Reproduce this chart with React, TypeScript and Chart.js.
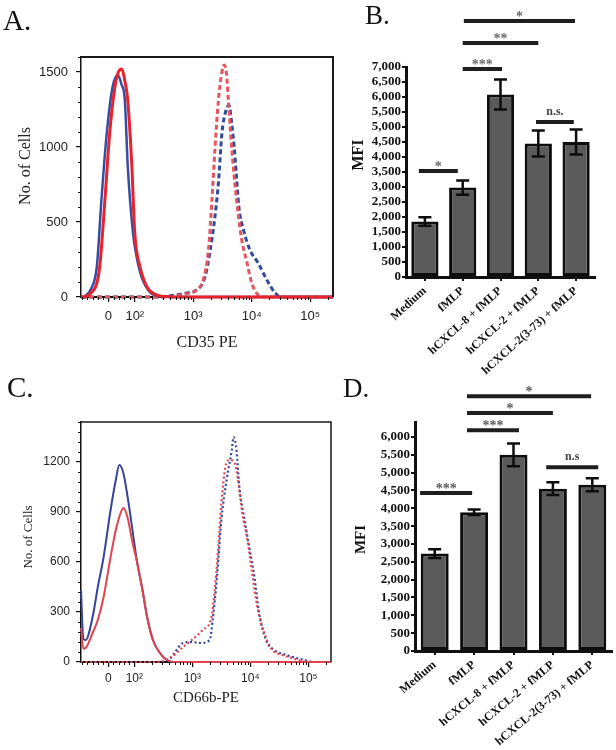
import React, { useEffect, useRef } from 'react';
import { Chart, registerables } from 'chart.js';

Chart.register(...registerables);

const SANS = "'Liberation Sans', Arial, sans-serif";
const SERIF = "'Liberation Serif', 'Times New Roman', serif";

// ---------- Flow histogram axes (x in display decades of the biexponential axis) ----------
const histXTicks = [1.55, 2, 3, 4, 5];
const histXTickLabels = ['0', '10²', '10³', '10⁴', '10⁵'];
const histXMin = 1.08;
const histXMax = 5.39;

// Panel A: CD35 PE histograms [position, count]
const aYTicks = [0, 500, 1000, 1500];
const aRedSolid = [[1.08, 0], [1.18, 5], [1.26, 30], [1.35, 90], [1.4, 200], [1.49, 650], [1.57, 1090], [1.66, 1400], [1.72, 1500], [1.78, 1520], [1.83, 1440], [1.88, 1310], [1.95, 870], [2.0, 425], [2.09, 200], [2.21, 67], [2.38, 13], [2.6, 2], [2.9, 0], [5.39, 0]];
const aBlueSolid = [[1.08, 0], [1.14, 5], [1.26, 60], [1.35, 200], [1.43, 650], [1.52, 1090], [1.62, 1400], [1.71, 1480], [1.77, 1420], [1.83, 1310], [1.88, 870], [1.97, 425], [2.03, 270], [2.12, 130], [2.26, 33], [2.43, 5], [2.7, 0], [5.39, 0]];
const aRedDashed = [[1.08, 0], [2.6, 0], [2.85, 20], [3.06, 47], [3.17, 113], [3.26, 313], [3.32, 650], [3.37, 980], [3.43, 1310], [3.49, 1500], [3.53, 1547], [3.57, 1480], [3.6, 1310], [3.66, 980], [3.74, 650], [3.83, 380], [3.92, 227], [4.0, 93], [4.08, 27], [4.16, 3], [4.3, 0], [5.39, 0]];
const aBlueDashed = [[1.08, 0], [2.4, 0], [2.69, 13], [2.89, 27], [3.06, 47], [3.2, 133], [3.29, 313], [3.37, 533], [3.43, 760], [3.49, 1090], [3.55, 1230], [3.61, 1280], [3.66, 1150], [3.7, 1000], [3.74, 800], [3.78, 600], [3.86, 447], [3.97, 313], [4.11, 227], [4.26, 113], [4.4, 27], [4.5, 0], [5.39, 0]];

// Panel C: CD66b-PE histograms [position, count]
const cYTicks = [0, 300, 600, 900, 1200];
const cBlueSolid = [[1.08, 430], [1.12, 140], [1.16, 132], [1.28, 270], [1.37, 450], [1.47, 630], [1.59, 912], [1.68, 1092], [1.74, 1182], [1.81, 1134], [1.9, 954], [1.98, 760], [2.05, 594], [2.14, 432], [2.22, 270], [2.32, 132], [2.44, 54], [2.56, 12], [2.7, 0], [5.39, 0]];
const cRedSolid = [[1.08, 204], [1.12, 80], [1.16, 84], [1.28, 174], [1.37, 252], [1.47, 390], [1.59, 630], [1.68, 792], [1.74, 870], [1.81, 924], [1.88, 870], [1.97, 714], [2.05, 594], [2.14, 432], [2.22, 270], [2.32, 132], [2.44, 54], [2.56, 12], [2.7, 0], [5.39, 0]];
const cRedDotted = [[1.08, 0], [2.4, 0], [2.62, 24], [2.84, 90], [2.99, 132], [3.18, 192], [3.33, 270], [3.38, 414], [3.44, 654], [3.5, 954], [3.57, 1170], [3.64, 1212], [3.73, 1194], [3.78, 1110], [3.86, 894], [3.95, 732], [4.03, 534], [4.12, 330], [4.24, 174], [4.38, 72], [4.55, 42], [4.72, 24], [4.84, 10], [5.0, 0], [5.39, 0]];
const cBlueDotted = [[1.08, 0], [2.4, 0], [2.62, 24], [2.84, 114], [2.99, 120], [3.13, 114], [3.3, 132], [3.35, 252], [3.42, 492], [3.5, 852], [3.59, 1092], [3.68, 1272], [3.71, 1350], [3.76, 1272], [3.81, 1050], [3.9, 852], [3.98, 690], [4.07, 510], [4.15, 294], [4.27, 132], [4.41, 72], [4.62, 42], [4.79, 24], [4.95, 10], [5.1, 0], [5.39, 0]];

// ---------- Bar charts ----------
const barCategories = ['Medium', 'fMLP', 'hCXCL-8 + fMLP', 'hCXCL-2 + fMLP', 'hCXCL-2(3-73) + fMLP'];

const bYTicks = [0, 500, 1000, 1500, 2000, 2500, 3000, 3500, 4000, 4500, 5000, 5500, 6000, 6500, 7000];
const bMeans = [1850, 2980, 6080, 4450, 4500];
const bErrors = [140, 240, 500, 430, 420];
// [from category, to category, MFI level, label]
const bBrackets: [number, number, number, string][] = [
  [-0.16, 0.87, 3530, '*'],
  [1.0, 2.04, 6930, '***'],
  [1.0, 3.0, 7800, '**'],
  [1.03, 3.97, 8530, '*'],
  [2.94, 3.94, 5170, 'n.s.'],
];

const dYTicks = [0, 500, 1000, 1500, 2000, 2500, 3000, 3500, 4000, 4500, 5000, 5500, 6000];
const dMeans = [2730, 3890, 5500, 4550, 4660];
const dErrors = [120, 80, 320, 180, 180];
const dBrackets: [number, number, number, string][] = [
  [-0.37, 0.95, 4430, '***'],
  [0.82, 2.14, 6190, '***'],
  [0.82, 3.0, 6670, '*'],
  [0.82, 3.97, 7140, '*'],
  [2.83, 4.15, 5150, 'n.s'],
];

// ---------- helpers ----------
const histMinorX: number[] = [];
for (let k = 2; k <= 4; k++) for (let m = 2; m <= 9; m++) histMinorX.push(k + Math.log10(m));
histMinorX.push(5 + Math.log10(2));
for (let v = 1.55 - 0.09; v > histXMin; v -= 0.09) histMinorX.push(v);
for (let v = 1.55 + 0.09; v < 1.97; v += 0.09) histMinorX.push(v);

function yTitlePlugin(text: string, font: string, x: number, dy: number, color: string) {
  return {
    id: 'ytitle',
    afterDraw(chart: any) {
      const { ctx, chartArea } = chart;
      ctx.save();
      ctx.translate(x, (chartArea.top + chartArea.bottom) / 2 + dy);
      ctx.rotate(-Math.PI / 2);
      ctx.font = font;
      ctx.fillStyle = color;
      ctx.textAlign = 'center';
      ctx.textBaseline = 'middle';
      ctx.fillText(text, 0, 0);
      ctx.restore();
    },
  };
}

function framePlugin(width: number) {
  return {
    id: 'frame',
    afterDraw(chart: any) {
      const { ctx, chartArea } = chart;
      const { left, right, top, bottom } = chartArea;
      ctx.save();
      ctx.strokeStyle = '#1a1a1a';
      ctx.lineWidth = width;
      ctx.beginPath();
      ctx.moveTo(left, top);
      ctx.lineTo(right, top);
      ctx.lineTo(right, bottom);
      ctx.stroke();
      ctx.restore();
    },
  };
}

function minorTicksPlugin(xVals: number[], yVals: number[], len: number) {
  return {
    id: 'minorTicks',
    afterDraw(chart: any) {
      const { ctx, chartArea, scales } = chart;
      ctx.save();
      ctx.strokeStyle = '#111';
      ctx.lineWidth = 1;
      ctx.beginPath();
      xVals.forEach((v) => {
        const px = Math.round(scales.x.getPixelForValue(v)) + 0.5;
        ctx.moveTo(px, chartArea.bottom);
        ctx.lineTo(px, chartArea.bottom + len);
      });
      yVals.forEach((v) => {
        const py = Math.round(scales.y.getPixelForValue(v)) + 0.5;
        ctx.moveTo(chartArea.left, py);
        ctx.lineTo(chartArea.left - len, py);
      });
      ctx.stroke();
      ctx.restore();
    },
  };
}

function errorBarsPlugin(means: number[], errors: number[]) {
  return {
    id: 'errorBars',
    afterDatasetsDraw(chart: any) {
      const { ctx, scales } = chart;
      const meta = chart.getDatasetMeta(0);
      ctx.save();
      ctx.strokeStyle = '#0d0d0d';
      ctx.lineWidth = 2.5;
      meta.data.forEach((bar: any, i: number) => {
        const x = bar.x;
        const yTop = scales.y.getPixelForValue(means[i] + errors[i]);
        const yBot = scales.y.getPixelForValue(means[i] - errors[i]);
        const cap = 6.5;
        ctx.beginPath();
        ctx.moveTo(x, yTop);
        ctx.lineTo(x, yBot);
        ctx.moveTo(x - cap, yTop);
        ctx.lineTo(x + cap, yTop);
        ctx.moveTo(x - cap, yBot);
        ctx.lineTo(x + cap, yBot);
        ctx.stroke();
      });
      ctx.restore();
    },
  };
}

function bracketsPlugin(brackets: [number, number, number, string][], starColor: string) {
  return {
    id: 'brackets',
    afterDraw(chart: any) {
      const { ctx, scales } = chart;
      ctx.save();
      brackets.forEach(([from, to, level, label]) => {
        const x1 = scales.x.getPixelForValue(from);
        const x2 = scales.x.getPixelForValue(to);
        const y = scales.y.getPixelForValue(level);
        ctx.strokeStyle = '#1e1e1e';
        ctx.lineWidth = 4;
        ctx.beginPath();
        ctx.moveTo(x1, y);
        ctx.lineTo(x2, y);
        ctx.stroke();
        const isStar = label.indexOf('*') >= 0;
        ctx.font = isStar ? `bold 14px ${SERIF}` : `bold 12px ${SERIF}`;
        ctx.fillStyle = isStar ? starColor : '#444';
        ctx.textAlign = 'center';
        ctx.textBaseline = 'alphabetic';
        const m = ctx.measureText(label);
        const gap = isStar ? 2 : 5;
        const baseY = y - 2 - gap - (m.actualBoundingBoxDescent || 0);
        ctx.fillText(label, (x1 + x2) / 2, baseY);
      });
      ctx.restore();
    },
  };
}

type Series = { points: number[][]; color: string; width: number; dash?: number[]; cap?: string };

function buildHist(canvas: HTMLCanvasElement, cfg: any) {
  return new Chart(canvas, {
    type: 'line',
    data: {
      datasets: cfg.series.map((s: Series) => ({
        data: s.points.map(([x, y]) => ({ x, y })),
        borderColor: s.color,
        borderWidth: s.width,
        borderDash: s.dash || [],
        borderCapStyle: s.cap || 'butt',
        pointRadius: 0,
        fill: false,
        cubicInterpolationMode: 'monotone',
        clip: 6,
      })),
    },
    options: {
      responsive: false,
      animation: false,
      devicePixelRatio: 1,
      layout: { padding: { top: cfg.padTop, right: cfg.padRight, left: 0, bottom: 0 } },
      plugins: { legend: { display: false }, tooltip: { enabled: false } },
      scales: {
        x: {
          type: 'linear',
          min: histXMin,
          max: histXMax,
          afterBuildTicks: (ax: any) => {
            ax.ticks = histXTicks.map((v) => ({ value: v }));
          },
          ticks: {
            callback: (_v: any, i: number) => histXTickLabels[i],
            font: { family: SANS, size: cfg.tickSize },
            color: '#222',
            padding: cfg.xPad,
            maxRotation: 0,
            autoSkip: false,
          },
          grid: { drawOnChartArea: false, drawTicks: true, tickLength: 5, color: '#111', lineWidth: 1.2 },
          border: { color: '#111', width: 2 },
          title: {
            display: true,
            text: cfg.xTitle,
            font: { family: SERIF, size: cfg.xTitleSize },
            color: '#222',
            padding: 0,
          },
          afterFit: (ax: any) => {
            ax.height = cfg.xHeight;
          },
        },
        y: {
          type: 'linear',
          min: 0,
          max: cfg.yMax,
          afterBuildTicks: (ax: any) => {
            ax.ticks = cfg.yTicks.map((v: number) => ({ value: v }));
          },
          ticks: {
            callback: (v: any) => String(v),
            font: { family: SANS, size: cfg.tickSize },
            color: '#222',
            padding: cfg.yPad,
            autoSkip: false,
          },
          grid: { drawOnChartArea: false, drawTicks: true, tickLength: 5, color: '#111', lineWidth: 1.2 },
          border: { color: '#111', width: 1.5 },
          afterFit: (ax: any) => {
            ax.width = cfg.yWidth;
          },
        },
      },
    },
    plugins: [
      framePlugin(cfg.frameWidth),
      minorTicksPlugin(histMinorX, cfg.yMinor, 3),
      yTitlePlugin(cfg.yTitle, `${cfg.yTitleSize}px ${SERIF}`, cfg.yTitleX, cfg.yTitleDy, '#222'),
    ],
  } as any);
}

function buildBars(canvas: HTMLCanvasElement, cfg: any) {
  return new Chart(canvas, {
    type: 'bar',
    data: {
      labels: barCategories,
      datasets: [
        {
          data: cfg.means,
          backgroundColor: '#5b5b5b',
          borderColor: '#0d0d0d',
          borderWidth: 3,
          borderSkipped: false,
          barPercentage: cfg.barPct,
          categoryPercentage: 1,
        },
      ],
    },
    options: {
      responsive: false,
      animation: false,
      devicePixelRatio: 1,
      layout: { padding: { top: cfg.padTop, right: cfg.padRight, left: 0, bottom: 0 } },
      plugins: { legend: { display: false }, tooltip: { enabled: false } },
      scales: {
        x: {
          type: 'category',
          offset: true,
          grid: { offset: false, drawOnChartArea: false, drawTicks: true, tickLength: 4, color: '#111', lineWidth: 2 },
          border: { color: '#111', width: 3 },
          ticks: {
            font: { family: SERIF, size: 12, weight: 'bold' },
            color: '#111',
            maxRotation: cfg.rot,
            minRotation: cfg.rot,
            autoSkip: false,
            padding: cfg.labelPad,
          },
          afterFit: (ax: any) => {
            ax.height = cfg.xHeight;
          },
        },
        y: {
          type: 'linear',
          min: 0,
          max: cfg.yMax,
          afterBuildTicks: (ax: any) => {
            ax.ticks = cfg.yTicks.map((v: number) => ({ value: v }));
          },
          ticks: {
            callback: (v: any) => Number(v).toLocaleString('en-US'),
            font: { family: SERIF, size: 13, weight: 'bold' },
            color: '#111',
            padding: 1,
            autoSkip: false,
          },
          grid: { drawOnChartArea: false, drawTicks: true, tickLength: 4, color: '#111', lineWidth: 2 },
          border: { color: '#111', width: 3 },
          afterFit: (ax: any) => {
            ax.width = cfg.yWidth;
          },
        },
      },
    },
    plugins: [
      errorBarsPlugin(cfg.means, cfg.errors),
      bracketsPlugin(cfg.brackets, cfg.starColor),
      yTitlePlugin('MFI', `bold ${cfg.yTitleSize}px ${SERIF}`, cfg.yTitleX, cfg.yTitleDy, '#111'),
    ],
  } as any);
}

function ChartCanvas(props: { left: number; top: number; width: number; height: number; build: (c: HTMLCanvasElement) => Chart }) {
  const ref = useRef<HTMLCanvasElement>(null);
  const { left, top, width, height, build } = props;
  useEffect(() => {
    const chart = build(ref.current as HTMLCanvasElement);
    return () => chart.destroy();
  }, []);
  return (
    <canvas
      ref={ref}
      width={width}
      height={height}
      style={{ position: 'absolute', left, top, width, height }}
    />
  );
}

function PanelLetter(props: { text: string; left: number; baseline: number; size: number }) {
  const { text, left, baseline, size } = props;
  return (
    <div
      style={{
        position: 'absolute',
        left,
        top: baseline - 0.8375 * size,
        fontFamily: SERIF,
        fontSize: size,
        lineHeight: `${size}px`,
        color: '#111',
        whiteSpace: 'nowrap',
      }}
    >
      {text}
    </div>
  );
}

const RED_A = '#e8232b';
const BLUE_A = '#3a4c9f';
const RED_A_DASH = '#e35660';
const BLUE_A_DASH = '#2f4c98';
const RED_C = '#e2434e';
const BLUE_C = '#35459a';

export default function App() {
  return (
    <div style={{ position: 'absolute', left: 0, top: 0, width: 616, height: 750, background: '#fff', overflow: 'hidden' }}>
      <ChartCanvas
        left={0}
        top={0}
        width={345}
        height={352}
        build={(c) =>
          buildHist(c, {
            series: [
              { points: aRedSolid, color: RED_A, width: 3 },
              { points: aBlueSolid, color: BLUE_A, width: 2.5 },
              { points: aRedDashed, color: RED_A_DASH, width: 3, dash: [5, 3] },
              { points: aBlueDashed, color: BLUE_A_DASH, width: 3, dash: [5, 3] },
            ],
            padTop: 57,
            padRight: 12,
            yWidth: 81,
            xHeight: 55,
            yMax: 1600,
            yTicks: aYTicks,
            yMinor: [100, 200, 300, 400, 600, 700, 800, 900, 1100, 1200, 1300, 1400, 1600],
            tickSize: 13,
            xPad: 7,
            yPad: 8,
            xTitle: 'CD35 PE',
            xTitleSize: 16,
            yTitle: 'No. of Cells',
            yTitleSize: 16,
            yTitleX: 26,
            yTitleDy: -11,
            frameWidth: 2,
          })
        }
      />
      <ChartCanvas
        left={0}
        top={370}
        width={345}
        height={337}
        build={(c) =>
          buildHist(c, {
            series: [
              { points: cRedSolid, color: RED_C, width: 2 },
              { points: cBlueSolid, color: BLUE_C, width: 2 },
              { points: cRedDotted, color: RED_C, width: 2.2, dash: [2, 2.5] },
              { points: cBlueDotted, color: BLUE_C, width: 2.2, dash: [2, 2.5] },
            ],
            padTop: 52,
            padRight: 14,
            yWidth: 81,
            xHeight: 45,
            yMax: 1440,
            yTicks: cYTicks,
            yMinor: [60, 120, 180, 240, 360, 420, 480, 540, 660, 720, 780, 840, 960, 1020, 1080, 1140, 1260, 1320, 1380, 1440],
            tickSize: 12,
            xPad: 4,
            yPad: 6,
            xTitle: 'CD66b-PE',
            xTitleSize: 15,
            yTitle: 'No. of Cells',
            yTitleSize: 13,
            yTitleX: 29,
            yTitleDy: -5,
            frameWidth: 1.5,
          })
        }
      />
      <ChartCanvas
        left={300}
        top={0}
        width={316}
        height={380}
        build={(c) =>
          buildBars(c, {
            means: bMeans,
            errors: bErrors,
            brackets: bBrackets,
            yTicks: bYTicks,
            yMax: 7000,
            padTop: 67,
            padRight: 21,
            yWidth: 106,
            xHeight: 103,
            barPct: 0.72,
            rot: 42,
            labelPad: 3,
            starColor: '#6a6a6a',
            yTitleSize: 16,
            yTitleX: 59,
            yTitleDy: -17,
          })
        }
      />
      <ChartCanvas
        left={300}
        top={375}
        width={316}
        height={375}
        build={(c) =>
          buildBars(c, {
            means: dMeans,
            errors: dErrors,
            brackets: dBrackets,
            yTicks: dYTicks,
            yMax: 6420,
            padTop: 47,
            padRight: 4,
            yWidth: 115,
            xHeight: 99,
            barPct: 0.71,
            rot: 40,
            labelPad: 3,
            starColor: '#5a5a5a',
            yTitleSize: 15,
            yTitleX: 61,
            yTitleDy: 3,
          })
        }
      />
      <PanelLetter text="A." left={3} baseline={30} size={29} />
      <PanelLetter text="B." left={365} baseline={25} size={27} />
      <PanelLetter text="C." left={7} baseline={397} size={29} />
      <PanelLetter text="D." left={343} baseline={398} size={27} />
    </div>
  );
}
